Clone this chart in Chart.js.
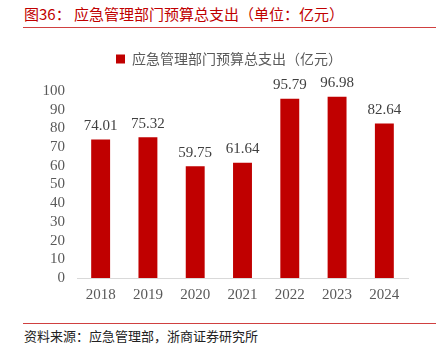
<!DOCTYPE html>
<html>
<head>
<meta charset="utf-8">
<script src="https://cdn.jsdelivr.net/npm/chart.js@4"></script>
<style>
  body { margin:0; width:436px; height:346px; background:#fff; position:relative; overflow:hidden; font-family:"Noto Sans CJK SC", sans-serif; }
  .title { position:absolute; left:24px; top:3px; font-size:15px; color:#c00000; white-space:nowrap; }
  .rule { position:absolute; left:23px; right:0; height:1px; background:#d04040; }
  .src { position:absolute; left:24px; top:326px; font-size:13px; color:#222; white-space:nowrap; }
  .box { position:absolute; left:0; top:40px; width:436px; height:264px; }
</style>
</head>
<body>
<div class="title">图36：&nbsp;应急管理部门预算总支出（单位：亿元）</div>
<div class="rule" style="top:27px"></div>
<div class="box"><canvas id="c"></canvas></div>
<div class="rule" style="top:323px"></div>
<div class="src">资料来源：应急管理部，浙商证券研究所</div>
<script>
const years = ['2018', '2019', '2020', '2021', '2022', '2023', '2024']
const spending = [74.01, 75.32, 59.75, 61.64, 95.79, 96.98, 82.64]
const seriesName = '应急管理部门预算总支出（亿元）'

// extra room under the legend, and nudge it right like the original
const legendGap = {
  id: 'legendGap',
  beforeInit(chart) {
    const fit = chart.legend.fit
    chart.legend.fit = function () {
      fit.call(this)
      this.height += 15
    }
  },
  afterLayout(chart) {
    chart.legend.left += 25
    chart.legend.right += 25
  }
}

const valueLabels = {
  id: 'valueLabels',
  afterDatasetsDraw(chart) {
    const ctx = chart.ctx
    const meta = chart.getDatasetMeta(0)
    ctx.save()
    ctx.font = '15px "Liberation Serif", serif'
    ctx.fillStyle = '#404040'
    ctx.textAlign = 'center'
    ctx.textBaseline = 'bottom'
    meta.data.forEach((bar, i) => {
      ctx.fillText(spending[i].toFixed(2), bar.x, bar.y - 6)
    })
    ctx.restore()
  }
}

new Chart(document.getElementById('c'), {
  type: 'bar',
  data: {
    labels: years,
    datasets: [{
      label: seriesName,
      data: spending,
      backgroundColor: '#c00000',
      barPercentage: 0.4,
      categoryPercentage: 1
    }]
  },
  options: {
    responsive: true,
    maintainAspectRatio: false,
    animation: false,
    layout: { padding: { left: 0, right: 28, top: 2, bottom: 0 } },
    plugins: {
      legend: {
        labels: {
          boxWidth: 9, boxHeight: 9,
          color: '#595959',
          font: { size: 14, family: '"Noto Sans CJK SC", sans-serif' }
        }
      },
      tooltip: { enabled: false }
    },
    scales: {
      x: {
        grid: { display: false },
        border: { color: '#d9d9d9', width: 1 },
        ticks: { color: '#595959', font: { size: 15, family: '"Liberation Serif", serif' }, padding: 0 }
      },
      y: {
        min: 0, max: 100,
        afterFit: s => { s.width = 77 },
        grid: { display: false },
        border: { display: false },
        ticks: { stepSize: 10, autoSkip: false, color: '#595959', font: { size: 15, family: '"Liberation Serif", serif' }, padding: 4 }
      }
    }
  },
  plugins: [legendGap, valueLabels]
})
</script>
</body>
</html>
